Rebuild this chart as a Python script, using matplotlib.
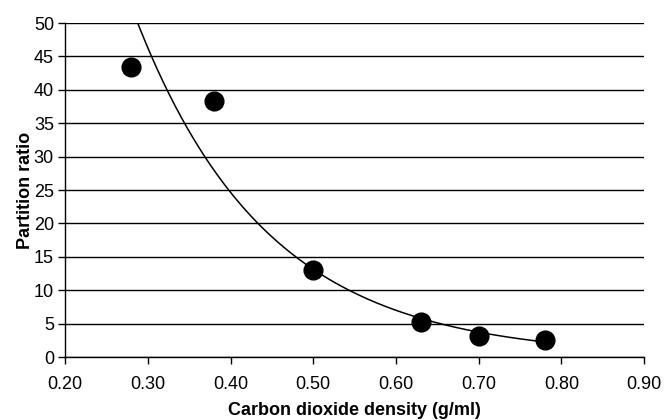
import numpy as np
import matplotlib; matplotlib.use('Agg')
import matplotlib.pyplot as plt

plt.rcParams['font.family'] = ['Liberation Sans', 'DejaVu Sans']

# measured points
density = np.array([0.28, 0.38, 0.50, 0.63, 0.70, 0.78])
ratio = np.array([43.4, 38.4, 13.0, 5.2, 3.2, 2.6])

# exponential trendline (Excel style: fit ln y vs x)
b, ln_a = np.polyfit(density, np.log(ratio), 1)
xf = np.linspace(0.25, 0.78, 300)
yf = np.exp(ln_a + b * xf)

fig = plt.figure(figsize=(6.64, 4.2), dpi=100)
ax = fig.add_axes([0.098, 0.150, 0.872, 0.795])

ax.set_xlim(0.2, 0.9); ax.set_ylim(0, 50)
ax.set_yticks(np.arange(0, 51, 5))
ax.set_xticks(np.arange(0.2, 0.91, 0.1))
ax.set_xticklabels([f'{v:.2f}' for v in np.arange(0.2, 0.91, 0.1)])
ax.grid(axis='y', color='black', lw=1.0)
ax.set_axisbelow(True)
for s in ['top', 'right']: ax.spines[s].set_visible(False)
for s in ['left', 'bottom']: ax.spines[s].set_linewidth(1.0)
ax.tick_params(labelsize=13, length=5, width=1.0, direction='out')
ax.tick_params(axis='x', pad=9)
ax.tick_params(axis='y', pad=3)

ax.plot(xf, yf, color='black', lw=1.1, clip_on=True)
ax.plot(density, ratio, 'o', color='black', markersize=13.5, clip_on=False, zorder=3)

ax.set_xlabel('Carbon dioxide density (g/ml)', fontsize=13, fontweight='bold', labelpad=6)
ax.set_ylabel('Partition ratio', fontsize=13, fontweight='bold', labelpad=0)

fig.savefig('out.png', dpi=100)
